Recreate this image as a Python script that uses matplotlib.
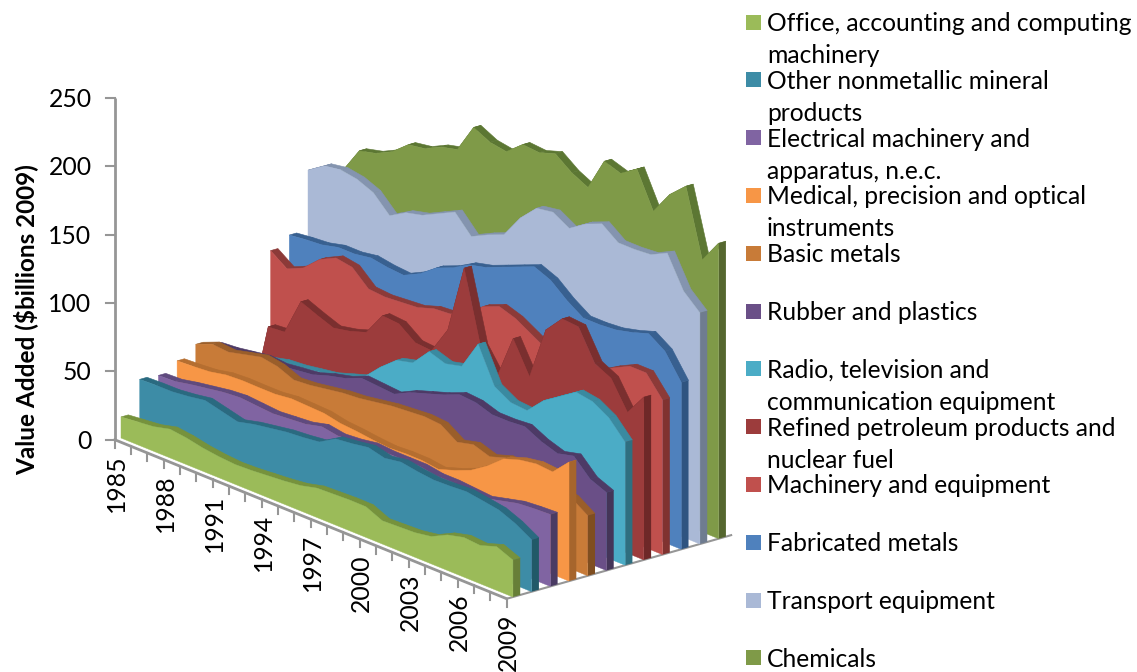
import numpy as np
import matplotlib
matplotlib.use("Agg")
import matplotlib.pyplot as plt

plt.rcParams['font.family'] = ['Lato', 'DejaVu Sans']

years = list(range(1985, 2010))
series_names = ["Office, accounting and computing\nmachinery",
                "Other nonmetallic mineral\nproducts",
                "Electrical machinery and\napparatus, n.e.c.",
                "Medical, precision and optical\ninstruments",
                "Basic metals",
                "Rubber and plastics",
                "Radio, television and\ncommunication equipment",
                "Refined petroleum products and\nnuclear fuel",
                "Machinery and equipment",
                "Fabricated metals",
                "Transport equipment",
                "Chemicals"]

office = [15.4,16.7,18,21,19.5,17,15.4,14.5,15,16,17,18.5,21.5,22,22.5,22.4,17,17.5,18,20,26,29,28,32,27]
nonmetallic = [39,39.5,39.6,41,43,40,37,40,42,44,45,46.5,53.6,55,57,54,56,54,52.6,53,53.8,52,50,45,38]
electrical = [38,38.5,41,43,45,46,45,44,45,46,49,47,48,50,49,49,49,47,47,46,45,48,51,52,52.6]
medical = [44.8,45.5,46.5,49,49.7,49.5,49.5,51,50.5,50,47.5,46.5,45,44,44.7,44.6,43,47,52,60,70,74,76,75,87]
basic_metals = [53,58,57,60,63,61,56,57,59,61,62,64,66,67,68,67,59,62,58,62,60,58,55,52,44]
rubber = [49,50,52,54,53,54.5,56,60,63,68,67,66,72,76,80,85,84,80,80,81,75,71,74,62,57]
radio = [40,42,44,47,48,50,52,56,60,72,82,85,98,94,97,118,92,85,84,96,104,112,110,103,90]
refined = [0,59,60,87,82,77.5,80,84,101,100,91,90,110,160,108,90,123,100,139,152,151,129,123,103,119]
machinery = [106,97.5,103,114,120,118,107,106,107,108,112,113,118,128,133,129,122,115,112,112,115,122,128,128,113]
fabricated = [113.5,115,116,119,119,121,119,118,124,133,138,145,148,153,158,163,158,148,140,140,141,144,148,140,122]
transport = [157,165,167,165,160,148,155,158,164,170,157,163,168,185,197,199,192,200,205,196,196,197,203,180,169]
chemicals = [150,158,177,180,186,196,198,204,207,228,222,220,230,229,233,224,218,242,238,246,220,237,248,199,216]

all_series = [office, nonmetallic, electrical, medical, basic_metals, rubber,
              radio, refined, machinery, fabricated, transport, chemicals]
front_cols = ['#9BBB59', '#3D8CA6', '#8064A2', '#F79646', '#C87B38', '#6A4F87',
              '#4BACC6', '#9C3C3C', '#C0504D', '#4F81BD', '#AAB9D6', '#7F9A48']
strip_cols = ['#76923C', '#2A6A80', '#5F4A7E', '#B56E30', '#9A5E2A', '#4D3A66',
              '#3A8AA0', '#7A2F2F', '#8C3A38', '#386090', '#8494AF', '#5C7733']
side_cols = ['#677F38', '#215968', '#4A3B63', '#A6652C', '#7F4E20', '#443558',
             '#2F6F80', '#6E2828', '#803230', '#2F5480', '#6F7C90', '#55672F']

# oblique projection of (year index, series index, value) onto the page
X0, Y0, DXT, DYT, DXS, DYS, K = 121.0, 438.0, 16.33, 6.625, 18.7, -5.3, 1.368
DEPTH = 0.39


def proj(t, s, v):
    t, s, v = np.asarray(t, float), np.asarray(s, float), np.asarray(v, float)
    return X0 + DXT * t + DXS * s, Y0 + DYT * t + DYS * s - K * v


fig = plt.figure(figsize=(11.37, 6.72), dpi=100)
ax = fig.add_axes([0, 0, 1, 1])
ax.set_xlim(0, 1137)
ax.set_ylim(672, 0)
ax.axis('off')

GRAY = '#969696'
# value axis
vticks = [0, 50, 100, 150, 200, 250]
wx, wy0 = proj(0, -0.33, 0)
ax.plot([wx, wx], [wy0, wy0 - K * 250], color=GRAY, lw=2, solid_capstyle='butt')
for v in vticks:
    y = wy0 - K * v
    ax.plot([wx - 9, wx], [y, y], color=GRAY, lw=1.5)
    ax.text(91.5, y + 1.5, str(v), ha='right', va='center', fontsize=17.8, color='black')

# floor edges
tt = np.arange(len(years))
ax.plot(*proj([0, 24], -0.33, 0), color=GRAY, lw=2, zorder=1)
ax.plot(*proj([24, 24], [-0.33, 11.67], 0), color=GRAY, lw=1.5, zorder=1)
for t in tt:
    x, y = proj(t, -0.33, 0)
    ax.plot([x, x], [y, y + 8], color=GRAY, lw=1.5, zorder=1)
for t in tt[::3]:
    x, y = proj(t, -0.33, 0)
    ax.text(x + 1.5, y + 15, str(years[t]), rotation=90, ha='center', va='top',
            fontsize=17.8, color='black', clip_on=False)

# series, back to front
for s in range(len(all_series) - 1, -1, -1):
    vals = np.array(all_series[s], float)
    x, y = proj(tt, s, vals)
    xb, yb = proj(tt, s, 0)
    dx, dy = DEPTH * DXS, DEPTH * DYS
    for i in range(len(tt) - 1):
        ax.fill([x[i], x[i + 1], x[i + 1] + dx, x[i] + dx],
                [y[i], y[i + 1], y[i + 1] + dy, y[i] + dy],
                facecolor=strip_cols[s], edgecolor=strip_cols[s], lw=0.4, zorder=3)
    ax.fill([x[-1], x[-1] + dx, x[-1] + dx, x[-1]],
            [y[-1], y[-1] + dy, yb[-1] + dy, yb[-1]],
            facecolor=side_cols[s], edgecolor='none', zorder=3)
    ax.fill(np.r_[x, xb[::-1]], np.r_[y, yb[::-1]],
            facecolor=front_cols[s], edgecolor=front_cols[s], lw=0.3, zorder=3)

ax.text(26, 320, 'Value Added ($billions 2009)', rotation=90, ha='center', va='center',
        fontsize=17.5, fontweight='bold', color='black')

# legend
LEG_Y0, LEG_STEP, LINE = 22.0, 57.8, 32.0
for i, name in enumerate(series_names):
    yc = LEG_Y0 + i * LEG_STEP
    ax.fill([746, 761, 761, 746], [yc - 7.5, yc - 7.5, yc + 7.5, yc + 7.5],
            facecolor=front_cols[i], edgecolor='none', zorder=5)
    for j, part in enumerate(name.split('\n')):
        ax.text(767, yc + j * LINE + 1.5, part, ha='left', va='center', fontsize=17.7,
                color='black', zorder=5)

fig.savefig('out.png', dpi=100)
